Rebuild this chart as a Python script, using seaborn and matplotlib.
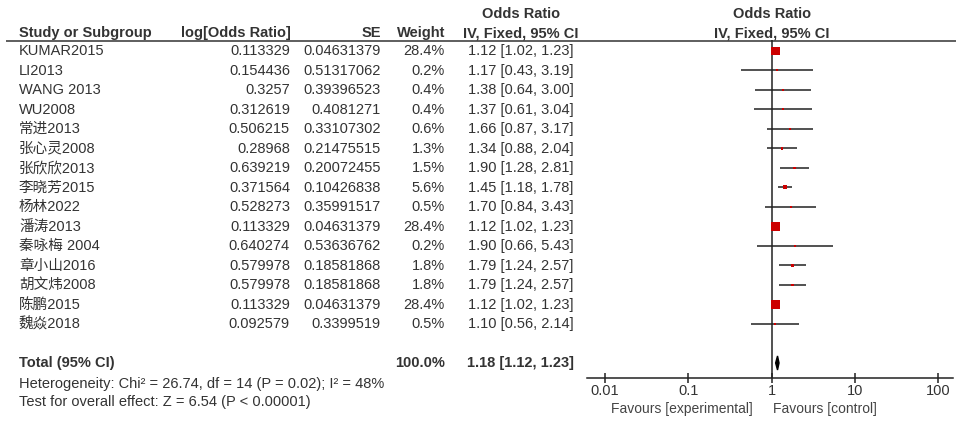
import numpy as np
import pandas as pd
import matplotlib
matplotlib.use("Agg")
import matplotlib.pyplot as plt
import seaborn as sns

sns.set_theme(style="white")
plt.rcParams['font.family'] = ['Liberation Sans', 'Noto Sans CJK SC']

# %% data
studies = ['KUMAR2015', 'LI2013', 'WANG 2013', 'WU2008', '常进2013', '张心灵2008',
           '张欣欣2013', '李晓芳2015', '杨林2022', '潘涛2013', '秦咏梅 2004',
           '章小山2016', '胡文炜2008', '陈鹏2015', '魏焱2018']
log_or = [0.113329, 0.154436, 0.3257, 0.312619, 0.506215, 0.28968, 0.639219,
          0.371564, 0.528273, 0.113329, 0.640274, 0.579978, 0.579978, 0.113329, 0.092579]
se = [0.04631379, 0.51317062, 0.39396523, 0.4081271, 0.33107302, 0.21475515,
      0.20072455, 0.10426838, 0.35991517, 0.04631379, 0.53636762, 0.18581868,
      0.18581868, 0.04631379, 0.3399519]
weight = [28.4, 0.2, 0.4, 0.4, 0.6, 1.3, 1.5, 5.6, 0.5, 28.4, 0.2, 1.8, 1.8, 28.4, 0.5]
or_est = [1.12, 1.17, 1.38, 1.37, 1.66, 1.34, 1.90, 1.45, 1.70, 1.12, 1.90, 1.79, 1.79, 1.12, 1.10]
or_lo = [1.02, 0.43, 0.64, 0.61, 0.87, 0.88, 1.28, 1.18, 0.84, 1.02, 0.66, 1.24, 1.24, 1.02, 0.56]
or_hi = [1.23, 3.19, 3.00, 3.04, 3.17, 2.04, 2.81, 1.78, 3.43, 1.23, 5.43, 2.57, 2.57, 1.23, 2.14]
total_est, total_lo, total_hi = 1.18, 1.12, 1.23
x_ticks = [0.01, 0.1, 1, 10, 100]
x_tick_labels = ['0.01', '0.1', '1', '10', '100']

df = pd.DataFrame({'study': studies, 'or': or_est, 'lo': or_lo, 'hi': or_hi,
                   'w': weight, 'row': np.arange(len(studies))})
total_row = len(studies) + 1

# %% figure
fig = plt.figure(figsize=(9.58, 4.21), dpi=100)
txt = '#333333'

# table layer: x in pixels, y in row units (same as forest axes)
tab = fig.add_axes([0, 0, 1, 1])
tab.set_xlim(0, 958)
tab.set_ylim(18.97, -2.615)
tab.axis('off')

# forest plot
ax = fig.add_axes([587 / 958, 43 / 421, 366 / 958, 338 / 421])
ax.set_xscale('log')
ax.set_xlim(10 ** -2.217, 10 ** 2.18)
ax.set_ylim(16.77, -0.56)
ax.hlines(df['row'], df['lo'], df['hi'], color='#222222', lw=1.1)
sns.scatterplot(data=df, x='or', y='row', size='w', sizes=(2, 36), size_norm=(0.2, 28.4),
                marker='s', color='#cc0000', edgecolor='#cc0000', linewidth=0,
                legend=False, ax=ax, zorder=3)
ax.fill([total_lo, total_est, total_hi, total_est],
        [total_row, total_row - 0.36, total_row, total_row + 0.36], color='black', zorder=3)
ax.axvline(1, color='#222222', lw=1.1)
ax.set_xticks(x_ticks)
ax.set_xticklabels(x_tick_labels)
ax.minorticks_off()
ax.set_yticks([])
ax.set_xlabel('')
ax.set_ylabel('')
for s in ['left', 'right', 'top']:
    ax.spines[s].set_visible(False)
ax.spines['bottom'].set_color('#222222')
ax.spines['bottom'].set_linewidth(1.1)
ax.tick_params(axis='x', direction='inout', length=7, width=1.1, color='#222222',
               labelsize=10.5, labelcolor=txt, pad=0.5, bottom=True)
ax.patch.set_alpha(0)

# headers
fs = 10.5
hdr = dict(fontsize=fs, fontweight='bold', color=txt, va='center')
tab.text(19, -0.92, 'Study or Subgroup', ha='left', **hdr)
tab.text(291, -0.92, 'log[Odds Ratio]', ha='right', **hdr)
tab.text(381, -0.92, 'SE', ha='right', **hdr)
tab.text(445, -0.92, 'Weight', ha='right', **hdr)
tab.text(521, -1.9, 'Odds Ratio', ha='center', **hdr)
tab.text(521, -0.92, 'IV, Fixed, 95% CI', ha='center', **hdr)
tab.text(772, -1.9, 'Odds Ratio', ha='center', **hdr)
tab.text(772, -0.92, 'IV, Fixed, 95% CI', ha='center', **hdr)
tab.hlines(-0.52, 6, 956, color='#333333', lw=1.1)

# rows
row_kw = dict(fontsize=fs, color=txt, va='center')
for i, name in enumerate(studies):
    tab.text(19, i, name, ha='left', **row_kw)
    tab.text(290, i, str(log_or[i]), ha='right', **row_kw)
    tab.text(381, i, str(se[i]), ha='right', **row_kw)
    tab.text(445, i, f'{weight[i]:.1f}%', ha='right', **row_kw)
    tab.text(521, i, f'{or_est[i]:.2f} [{or_lo[i]:.2f}, {or_hi[i]:.2f}]', ha='center', **row_kw)

tot_kw = dict(fontsize=fs, fontweight='bold', color=txt, va='center')
tab.text(19, total_row, 'Total (95% CI)', ha='left', **tot_kw)
tab.text(445, total_row, f'{sum(weight):.1f}%', ha='right', **tot_kw)
tab.text(521, total_row, f'{total_est:.2f} [{total_lo:.2f}, {total_hi:.2f}]', ha='center', **tot_kw)
tab.text(19, 17.08, 'Heterogeneity: Chi² = 26.74, df = 14 (P = 0.02); I² = 48%',
         ha='left', **row_kw)
tab.text(19, 18.0, 'Test for overall effect: Z = 6.54 (P < 0.00001)', ha='left', **row_kw)
tab.text(753, 18.35, 'Favours [experimental]', ha='right', fontsize=10, color='#444444', va='center')
tab.text(773, 18.35, 'Favours [control]', ha='left', fontsize=10, color='#444444', va='center')

fig.savefig('out.png', dpi=100)
